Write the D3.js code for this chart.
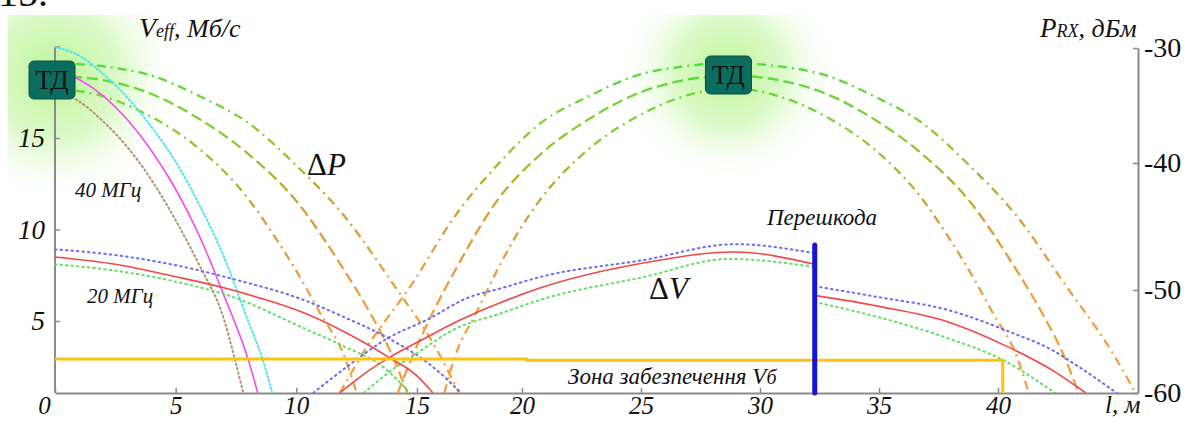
<!DOCTYPE html>
<html>
<head>
<meta charset="utf-8">
<script src="https://cdn.jsdelivr.net/npm/d3@7"></script>
<style>
	body { margin: 0; background: #fff; }
	svg, svg text, svg tspan { font-family: 'Liberation Serif', 'DejaVu Serif', serif !important; }
	svg text { fill: #111; }
	.axis path, .axis line { stroke: #8a8a8a; }
	.axis path { stroke-width: 2; }
	.axis line { stroke-width: 1.5; }
	.axis text { font-size: 27px; font-style: italic; fill: #111; }
	.axis--bottom text { font-size: 25px; }
	.axis--right text { font-style: normal; font-size: 28px; }
</style>
</head>
<body>
<svg></svg>
<script>
// ticks
const xTicks = [0, 5, 10, 15, 20, 25, 30, 35, 40];
const vTicks = [5, 10, 15, 20];
const pTicks = [-30, -40, -50, -60];

// access points (l, m) and obstacle
const apPos = [0, 28.8];
const obstacleL = 32.3;
const obstacleTop = 9.15;

// P_RX profiles by distance from access point: [d, dBm]
const pTop = [[0, -31.3], [2, -31.6], [4, -32.4], [6, -34.2], [8, -36.5], [10, -40.2], [12, -44.2], [14, -49.5], [16, -56], [17, -60]];
const pMid = [[0, -32.4], [2, -32.8], [4, -34], [6, -36.2], [8, -39.2], [10, -43], [12, -48.5], [13, -52], [14, -56.5], [14.6, -60]];
const pBot = [[0, -33.5], [2, -34.2], [4, -36], [6, -38.8], [8, -42.8], [9, -45.5], [10, -48.5], [11, -52.3], [12, -56.5], [12.5, -60]];

// V_eff, 40 MHz: [l, Mb/s]
const magenta40 = [[0, 18.7], [1, 18.2], [2, 17.3], [3, 16.0], [4, 14.3], [5, 12.2], [6, 9.6], [7, 6.4], [8, 2.92], [8.4, 1.07]];
const cyan40 = [[0, 19.97], [1, 19.5], [2, 18.5], [3, 17.2], [4, 15.6], [5, 13.7], [6, 11.3], [7, 8.5], [8, 5.0], [8.6, 2.92], [9.0, 1.07]];
const brown40 = [[0, 17.6], [1, 17.0], [2, 15.9], [3, 14.5], [4, 12.7], [5, 10.5], [6, 8.0], [7, 5.1], [7.46, 2.87], [7.8, 1.07]];

// V_eff, 20 MHz, from AP1 and AP2 (null = drop at the obstacle)
const blueL = [[0, 8.92], [2.5, 8.6], [5, 8.05], [7.5, 7.25], [10.2, 6.2], [12, 5.2], [13.8, 4.07], [15.76, 2.49], [17.1, 1.07]];
const blueR = [[10.7, 1.07], [12.2, 2.6], [13.8, 4.07], [15.5, 5.08], [17.4, 6.26], [19.05, 6.8], [20.75, 7.4], [25.1, 8.33], [28.95, 9.2], [32.3, 8.7], null,
	[32.3, 6.9], [35.0, 6.3], [37.9, 5.6], [40.6, 4.35], [42.3, 3.4], [43.4, 2.5], [45.0, 1.07]];
const redL = [[0, 8.5], [2.5, 8.1], [5, 7.42], [6.84, 6.87], [8.5, 6.25], [10.2, 5.5], [12, 4.4], [13.85, 3.0], [15, 2.0], [15.76, 1.07]];
const redR = [[11.8, 1.07], [12.8, 2.1], [13.85, 3.0], [15.4, 4.07], [17.05, 5.05], [19.05, 6.04], [20.75, 6.8], [25.1, 8.17], [28.9, 8.77], [32.3, 8.1], null,
	[32.3, 6.4], [35.0, 5.8], [37.9, 4.95], [40.4, 3.6], [42.3, 2.3], [43.7, 1.07]];
const greenL = [[0, 8.1], [2.5, 7.75], [5, 7.15], [7.5, 6.25], [10.2, 4.67], [12, 3.6], [13.6, 2.49], [14.7, 1.07]];
const greenR = [[12.8, 1.07], [13.8, 2.16], [15.2, 3.4], [16.7, 4.5], [19.05, 5.44], [20.75, 6.15], [25.1, 7.4], [28.7, 8.39], [32.3, 7.95], null,
	[32.3, 6.04], [35.0, 5.2], [37.8, 4.1], [40.2, 2.87], [42.4, 1.07]];

// zone of guaranteed V_b
const zone = [[0, 2.92], [20.2, 2.92], [20.2, 2.85], [40.2, 2.85], [40.2, 1.07]];

const width = 1187;
const height = 421;
const serif = "'Liberation Serif', 'DejaVu Serif', serif";

const svg = d3.select('svg')
	.attr('width', width)
	.attr('height', height)
	.attr('font-family', serif);

// the source chart is slightly uneven, so piecewise scales
const x = d3.scaleLinear()
	.domain([0, 15, 20, 40, 45.9])
	.range([55, 417, 522, 998, 1138]);

const yV = d3.scaleLinear()
	.domain([5, 15])
	.range([321, 138]);

const yP = d3.scaleLinear()
	.domain([-60, -50, -40, -30])
	.range([393, 290, 163, 48]);

const left = x.range()[0];
const right = x.range()[x.range().length - 1];
const bottom = yP.range()[0];

const defs = svg.append('defs');

defs.append('clipPath').attr('id', 'plot')
	.append('rect')
		.attr('x', left).attr('y', 10)
		.attr('width', right - left).attr('height', bottom - 10);

const glows = [
	{ id: 'glow1', cx: 55, cy: 75, r: 130, x0: 8, y0: 15, x1: 160, y1: 185 },
	{ id: 'glow2', cx: 728, cy: 72, r: 110, x0: 618, y0: 15, x1: 838, y1: 182 }
];

glows.forEach(g => {
	const grad = defs.append('radialGradient')
		.attr('id', g.id)
		.attr('gradientUnits', 'userSpaceOnUse')
		.attr('cx', g.cx).attr('cy', g.cy).attr('r', g.r);
	grad.append('stop').attr('offset', 0).attr('stop-color', '#bdf496').attr('stop-opacity', 1);
	grad.append('stop').attr('offset', 0.5).attr('stop-color', '#d9f9c4').attr('stop-opacity', 0.9);
	grad.append('stop').attr('offset', 1).attr('stop-color', '#ffffff').attr('stop-opacity', 0);
});

const pGrad = defs.append('linearGradient')
	.attr('id', 'pgrad')
	.attr('gradientUnits', 'userSpaceOnUse')
	.attr('x1', 0).attr('y1', 55).attr('x2', 0).attr('y2', 300);
[[0, '#44e03a'], [0.3, '#86cf32'], [0.5, '#b2b02c'], [0.7, '#e09a36'], [1, '#f0a040']].forEach(s => {
	pGrad.append('stop').attr('offset', s[0]).attr('stop-color', s[1]);
});

svg.selectAll('rect.glow').data(glows)
	.enter().append('rect')
		.attr('class', 'glow')
		.attr('x', d => d.x0).attr('y', d => d.y0)
		.attr('width', d => d.x1 - d.x0).attr('height', d => d.y1 - d.y0)
		.attr('fill', d => `url(#${d.id})`);

// cut-off figure number at the top
svg.append('text')
	.attr('x', -2).attr('y', 6)
	.attr('font-family', serif)
	.style('font-size', '40px')
	.text('15.');

// axes
const yAxisLeft = d3.axisLeft(yV)
	.tickValues(vTicks)
	.tickFormat(d => d === 20 ? '' : d)
	.tickSize(-5)
	.tickSizeOuter(0)
	.tickPadding(10);

const yAxisRight = d3.axisRight(yP)
	.tickValues(pTicks)
	.tickFormat(d => String(d))
	.tickSize(-5)
	.tickSizeOuter(0)
	.tickPadding(6);

const xAxis = d3.axisBottom(x)
	.tickValues(xTicks)
	.tickSize(-5)
	.tickSizeOuter(0)
	.tickPadding(3);

svg.append('g')
	.attr('class', 'axis')
	.attr('transform', `translate(${left},0)`)
	.call(yAxisLeft)
	.select('.domain').attr('d', `M0,${yV(20)}V${bottom}`);

svg.append('g')
	.attr('class', 'axis axis--right')
	.attr('transform', `translate(${right},0)`)
	.call(yAxisRight);

const xAxisGroup = svg.append('g')
	.attr('class', 'axis axis--bottom')
	.attr('transform', `translate(0,${bottom})`)
	.call(xAxis);

xAxisGroup.selectAll('.tick text').filter(d => d === 0).attr('dx', -11);

svg.selectAll('.axis').attr('font-family', serif);
svg.selectAll('.axis .domain').attr('stroke', '#8a8a8a');

const plot = svg.append('g').attr('clip-path', 'url(#plot)');

// P_RX curves
const pLine = d3.line()
	.x(d => x(d[0]))
	.y(d => yP(d[1]))
	.curve(d3.curveMonotoneX);

const pSeries = [
	{ profile: pTop, dash: '9,5,2,5' },
	{ profile: pMid, dash: '11,5' },
	{ profile: pBot, dash: '9,5,2,5' }
];

pSeries.forEach(s => {
	const fromAp1 = s.profile.map(d => [apPos[0] + d[0], d[1]]);
	const fromAp2 = s.profile.slice(1).reverse().map(d => [apPos[1] - d[0], d[1]])
		.concat(s.profile.map(d => [apPos[1] + d[0], d[1]]));
	plot.selectAll(null).data([fromAp1, fromAp2])
		.enter().append('path')
			.attr('d', pLine)
			.attr('fill', 'none')
			.attr('stroke', 'url(#pgrad)')
			.attr('stroke-width', 2.3)
			.attr('stroke-dasharray', s.dash);
});

// V_eff curves
const vLine = d3.line()
	.defined(d => d !== null)
	.x(d => x(d[0]))
	.y(d => yV(d[1]))
	.curve(d3.curveMonotoneX);

const vSeries = [
	{ data: brown40, color: '#b4906e', width: 2, dash: '1.5,3' },
	{ data: cyan40, color: '#4fe6f2', width: 2, dash: '1.5,2.5' },
	{ data: magenta40, color: '#f44ef0', width: 1.6, dash: null },
	{ data: blueL, color: '#6b6bf2', width: 2, dash: '1.5,4' },
	{ data: blueR, color: '#6b6bf2', width: 2, dash: '1.5,4' },
	{ data: greenL, color: '#5ee25e', width: 2, dash: '1.5,4' },
	{ data: greenR, color: '#5ee25e', width: 2, dash: '1.5,4' },
	{ data: redL, color: '#f24848', width: 1.6, dash: null },
	{ data: redR, color: '#f24848', width: 1.6, dash: null }
];

plot.selectAll('path.v').data(vSeries)
	.enter().append('path')
		.attr('class', 'v')
		.attr('d', d => vLine(d.data))
		.attr('fill', 'none')
		.attr('stroke', d => d.color)
		.attr('stroke-width', d => d.width)
		.attr('stroke-dasharray', d => d.dash)
		.attr('stroke-linecap', d => d.dash ? 'round' : 'butt');

// zone line
plot.append('path')
	.attr('d', d3.line().x(d => x(d[0])).y(d => yV(d[1]))(zone))
	.attr('fill', 'none')
	.attr('stroke', '#ffc20e')
	.attr('stroke-width', 3);

// obstacle
svg.append('line')
	.attr('x1', x(obstacleL)).attr('x2', x(obstacleL))
	.attr('y1', yV(obstacleTop)).attr('y2', bottom)
	.attr('stroke', '#1414d4')
	.attr('stroke-width', 5)
	.attr('stroke-linecap', 'round');

// access points
const apY = [80, 75];
const ap = svg.selectAll('g.ap').data(apPos)
	.enter().append('g')
		.attr('class', 'ap')
		.attr('transform', (d, i) => `translate(${x(d) - 3},${apY[i]})`);

ap.append('rect')
	.attr('x', -23).attr('y', -19)
	.attr('width', 46).attr('height', 38)
	.attr('rx', 5)
	.attr('fill', '#0b6d5f')
	.attr('stroke', '#0a4f45')
	.attr('stroke-width', 1);

ap.append('text')
	.attr('text-anchor', 'middle')
	.attr('y', 9)
	.attr('font-family', serif)
	.style('font-size', '27px')
	.text('ТД');

// labels
const label = (px, py) => svg.append('text').attr('x', px).attr('y', py).attr('font-family', serif);
const italic = (sel, size) => sel.style('font-style', 'italic').style('font-size', size + 'px');

const vTitle = label(139, 37);
italic(vTitle.append('tspan'), 28).text('V');
italic(vTitle.append('tspan'), 18).text('eff');
italic(vTitle.append('tspan'), 26).text(', Мб/с');

const pTitle = label(1040, 37);
italic(pTitle.append('tspan'), 27).text('P');
italic(pTitle.append('tspan'), 18).text('RX');
italic(pTitle.append('tspan'), 26).text(', дБм');

italic(label(1105, 413), 25).text('l, м');

italic(label(75, 197), 21).text('40 МГц');
italic(label(87, 303), 21).text('20 МГц');
italic(label(767, 225), 23).text('Перешкода');
const zoneLabel = italic(label(568, 384), 23);
zoneLabel.append('tspan').text('Зона забезпечення V');
zoneLabel.append('tspan').style('font-size', '20px').text('б');

const dP = label(307, 175).style('font-size', '31px');
dP.append('tspan').text('Δ');
dP.append('tspan').style('font-style', 'italic').text('P');

const dV = label(649, 299).style('font-size', '31px');
dV.append('tspan').text('Δ');
dV.append('tspan').style('font-style', 'italic').text('V');
</script>
</body>
</html>
